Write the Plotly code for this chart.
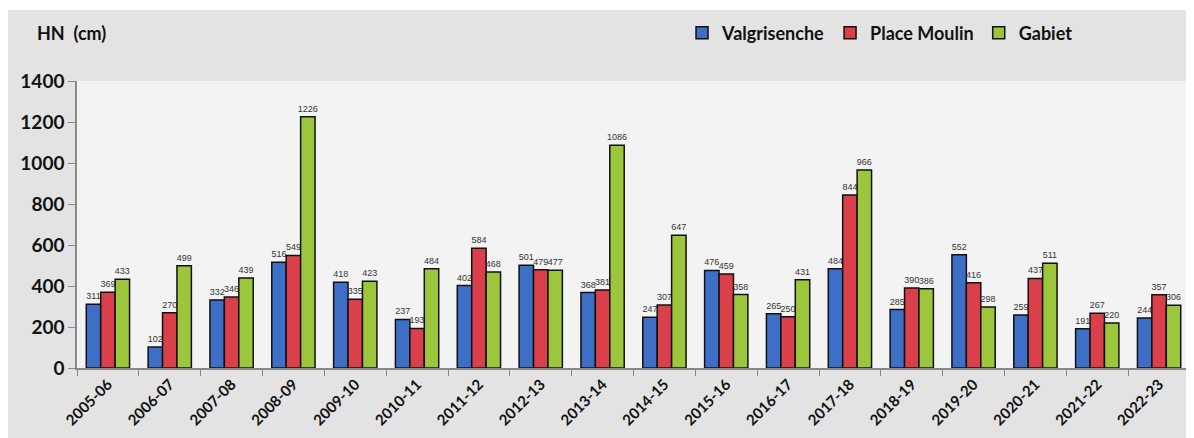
import plotly.graph_objects as go

seasons = ["2005-06", "2006-07", "2007-08", "2008-09", "2009-10", "2010-11", "2011-12",
           "2012-13", "2013-14", "2014-15", "2015-16", "2016-17", "2017-18", "2018-19",
           "2019-20", "2020-21", "2021-22", "2022-23"]
valgrisenche = [311, 102, 332, 516, 418, 237, 402, 501, 368, 247, 476, 265, 484, 285, 552, 259, 191, 244]
place_moulin = [369, 270, 346, 549, 335, 193, 584, 479, 381, 307, 459, 250, 844, 390, 416, 437, 267, 357]
gabiet = [433, 499, 439, 1226, 423, 484, 468, 477, 1086, 647, 358, 431, 966, 386, 298, 511, 220, 306]

y_ticks = [0, 200, 400, 600, 800, 1000, 1200, 1400]

series = [
    ("Valgrisenche", valgrisenche, "#3d6fc6"),
    ("Place Moulin", place_moulin, "#d9404a"),
    ("Gabiet", gabiet, "#9cc73c"),
]

fig = go.Figure()
for name, vals, col in series:
    fig.add_trace(go.Bar(
        x=seasons, y=vals, name=name,
        marker=dict(color=col, line=dict(color="#111111", width=1.5)),
        text=vals, textposition="outside", constraintext="none",
        textfont=dict(family="Liberation Sans, Arial", size=9, color="#333333"),
        cliponaxis=False,
    ))

fig.update_layout(
    width=1194, height=438,
    barmode="group", bargap=0.3, bargroupgap=0,
    paper_bgcolor="#e3e3e3", plot_bgcolor="#f3f3f3",
    margin=dict(l=69, r=12, t=73, b=78, autoexpand=False),
    font=dict(family="Lato, sans-serif", color="#111111"),
    legend=dict(orientation="h", xref="container", yref="container",
                x=0.5645, xanchor="left", y=0.943, yanchor="middle",
                bgcolor="rgba(0,0,0,0)", font=dict(size=18, family="Lato", weight="bold"),
                itemwidth=30, tracegroupgap=0),
    showlegend=True,
    xaxis=dict(type="category", showline=True, linecolor="#888888", linewidth=1.5,
               ticks="outside", tickson="boundaries", ticklen=6, tickcolor="#888888",
               tickangle=-45, tickfont=dict(size=15, family="Lato", weight="bold"),
               showgrid=False, automargin=False),
    yaxis=dict(range=[0, 1400], tickvals=y_ticks, showline=True, linecolor="#888888",
               linewidth=1.5, ticks="outside", ticklen=7, tickcolor="#888888",
               tickfont=dict(size=19, family="Lato", weight="bold"), showgrid=False,
               zeroline=False, automargin=False),
    shapes=[dict(type="rect", xref="paper", yref="paper", x0=-0.1, x1=1.1,
                 y0=1.247, y1=1.35, line=dict(width=0), fillcolor="white", layer="below")],
    annotations=[dict(text="HN  (cm)", xref="paper", yref="paper", x=-0.0377, y=1.167,
                      xanchor="left", yanchor="middle", showarrow=False,
                      font=dict(size=18, family="Lato", weight="bold"))],
)

fig.write_html("out.html")
